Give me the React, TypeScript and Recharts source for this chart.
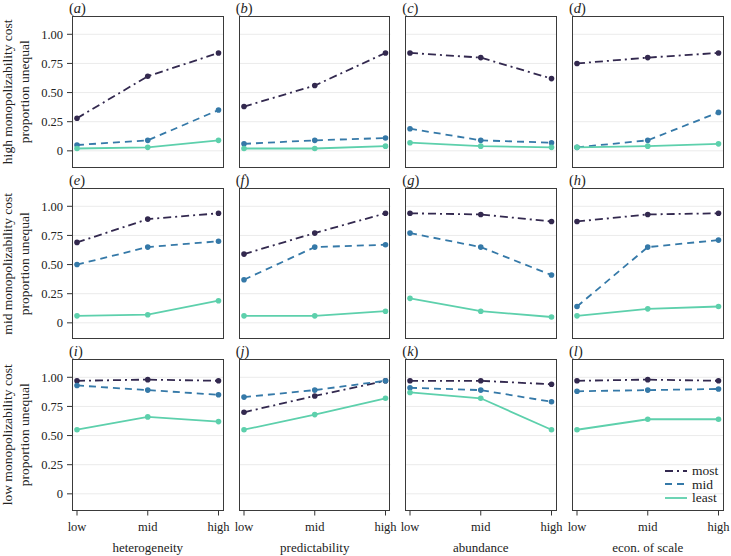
import React from 'react';
import { LineChart, Line, XAxis, YAxis, CartesianGrid } from 'recharts';

const categories = ['low', 'mid', 'high'];
const factors = ['heterogeneity', 'predictability', 'abundance', 'econ. of scale'];
const costLevels = ['high', 'mid', 'low'];
const panelLetters = ['a', 'b', 'c', 'd', 'e', 'f', 'g', 'h', 'i', 'j', 'k', 'l'];
const yTicks = [0, 0.25, 0.5, 0.75, 1];

// values: [factor][category low/mid/high]
const highCostMost = [[0.28, 0.64, 0.84], [0.38, 0.56, 0.84], [0.84, 0.80, 0.62], [0.75, 0.80, 0.84]];
const highCostMid = [[0.05, 0.09, 0.35], [0.06, 0.09, 0.11], [0.19, 0.09, 0.07], [0.03, 0.09, 0.33]];
const highCostLeast = [[0.02, 0.03, 0.09], [0.02, 0.02, 0.04], [0.07, 0.04, 0.03], [0.03, 0.04, 0.06]];
const midCostMost = [[0.69, 0.89, 0.94], [0.59, 0.77, 0.94], [0.94, 0.93, 0.87], [0.87, 0.93, 0.94]];
const midCostMid = [[0.50, 0.65, 0.70], [0.37, 0.65, 0.67], [0.77, 0.65, 0.41], [0.14, 0.65, 0.71]];
const midCostLeast = [[0.06, 0.07, 0.19], [0.06, 0.06, 0.10], [0.21, 0.10, 0.05], [0.06, 0.12, 0.14]];
const lowCostMost = [[0.97, 0.98, 0.97], [0.70, 0.84, 0.97], [0.97, 0.97, 0.94], [0.97, 0.98, 0.97]];
const lowCostMid = [[0.93, 0.89, 0.85], [0.83, 0.89, 0.97], [0.91, 0.89, 0.79], [0.88, 0.89, 0.90]];
const lowCostLeast = [[0.55, 0.66, 0.62], [0.55, 0.68, 0.82], [0.87, 0.82, 0.55], [0.55, 0.64, 0.64]];

const mostRows = [highCostMost, midCostMost, lowCostMost];
const midRows = [highCostMid, midCostMid, lowCostMid];
const leastRows = [highCostLeast, midCostLeast, lowCostLeast];

const seriesKeys = ['most', 'mid', 'least'];
const seriesColors = ['#33294F', '#3579A8', '#5DD0AC'];
const seriesDashes = ['8 4 2 4', '7 5', ''];

const FONT = "'Liberation Serif', 'Times New Roman', Tinos, Times, serif";
const colLefts = [72, 238.7, 405.3, 572];
const rowTops = [16, 187.5, 359];
const panelW = 151.5;
const panelH = 151.5;
const yDomain = [-0.143, 1.157];
const PADX = 16;

function YTitle(props: any) {
  const { viewBox, lines } = props;
  const cy = viewBox.y + viewBox.height / 2;
  return (
    <g>
      {lines.map((l: string, i: number) => (
        <text
          key={i}
          transform={`translate(${PADX + 12 + i * 17},${cy}) rotate(-90)`}
          textAnchor="middle"
          fontFamily={FONT}
          fontSize={13.5}
          fill="#222"
        >
          {l}
        </text>
      ))}
    </g>
  );
}

function Panel({ row, col }: { row: number; col: number }) {
  const isLeft = col === 0;
  const isBottom = row === 2;
  const yw = isLeft ? colLefts[0] : 0;
  const xh = isBottom ? 46 : 0;
  const data = categories.map((c, i) => ({
    cat: c,
    most: mostRows[row][col][i],
    mid: midRows[row][col][i],
    least: leastRows[row][col][i],
  }));
  const letter = panelLetters[row * 4 + col];
  return (
    <>
      <div style={{ position: 'absolute', left: colLefts[col] - yw - PADX, top: rowTops[row] }}>
        <LineChart
          width={panelW + yw + 2 * PADX}
          height={panelH + xh}
          data={data}
          margin={{ top: 0, right: PADX, bottom: 0, left: PADX }}
          style={{ fontFamily: FONT }}
        >
          <CartesianGrid vertical={false} horizontalValues={yTicks} stroke="#ebebeb" strokeWidth={1} />
          <XAxis
            dataKey="cat"
            hide={!isBottom}
            height={xh}
            padding={{ left: 5, right: 5 }}
            axisLine={false}
            tickLine={{ stroke: '#333' }}
            tickSize={5}
            tickMargin={7}
            tick={{ fill: '#222', fontSize: 12.5, fontFamily: FONT }}
            interval={0}
            label={{
              value: factors[col],
              position: 'insideBottom',
              offset: 5,
              fill: '#222',
              fontSize: 13,
              fontFamily: FONT,
            }}
          />
          <YAxis
            type="number"
            domain={yDomain}
            ticks={yTicks}
            hide={!isLeft}
            width={yw}
            axisLine={false}
            tickLine={{ stroke: '#333' }}
            tickSize={5}
            tickMargin={4}
            tick={{ fill: '#222', fontSize: 12.5, fontFamily: FONT }}
            tickFormatter={(v: number) => (v === 0 ? '0' : v.toFixed(2))}
            allowDataOverflow
            label={<YTitle lines={[`${costLevels[row]} monopolizability cost`, 'proportion unequal']} />}
          />
          {seriesKeys.map((k, i) => (
            <Line
              key={k}
              dataKey={k}
              type="linear"
              stroke={seriesColors[i]}
              strokeWidth={1.8}
              strokeDasharray={seriesDashes[i] || undefined}
              dot={{ r: 2.8, fill: seriesColors[i], stroke: seriesColors[i], strokeWidth: 0 }}
              activeDot={false}
              isAnimationActive={false}
            />
          ))}
        </LineChart>
      </div>
      <div
        style={{
          position: 'absolute',
          left: colLefts[col] - 3,
          top: rowTops[row],
          width: panelW,
          height: panelH,
          marginLeft: 3,
          border: '1px solid #3a3a3a',
          boxSizing: 'border-box',
          pointerEvents: 'none',
        }}
      />
      <div
        style={{
          position: 'absolute',
          left: colLefts[col] - 3,
          top: rowTops[row] - 15,
          fontFamily: FONT,
          fontSize: 14.5,
          lineHeight: '14px',
          color: '#222',
          whiteSpace: 'nowrap',
        }}
      >
        (<i>{letter}</i>)
      </div>
    </>
  );
}

function LegendBox() {
  return (
    <div style={{ position: 'absolute', left: 663, top: 464, fontFamily: FONT, fontSize: 13.5, color: '#222' }}>
      {seriesKeys.map((k, i) => (
        <div key={k} style={{ display: 'flex', alignItems: 'center', height: 13.5 }}>
          <svg width={26} height={8} style={{ marginRight: 3 }}>
            <line
              x1={2}
              y1={4}
              x2={24}
              y2={4}
              stroke={seriesColors[i]}
              strokeWidth={1.8}
              strokeDasharray={seriesDashes[i] || undefined}
            />
          </svg>
          <span style={{ lineHeight: '13.5px' }}>{k}</span>
        </div>
      ))}
    </div>
  );
}

export default function App() {
  const panels: React.ReactNode[] = [];
  for (let r = 0; r < 3; r++) {
    for (let c = 0; c < 4; c++) {
      panels.push(<Panel key={`${r}-${c}`} row={r} col={c} />);
    }
  }
  return (
    <div style={{ position: 'absolute', left: 0, top: 0, width: 731, height: 556, background: '#fff', overflow: 'hidden' }}>
      {panels}
      <LegendBox />
    </div>
  );
}
